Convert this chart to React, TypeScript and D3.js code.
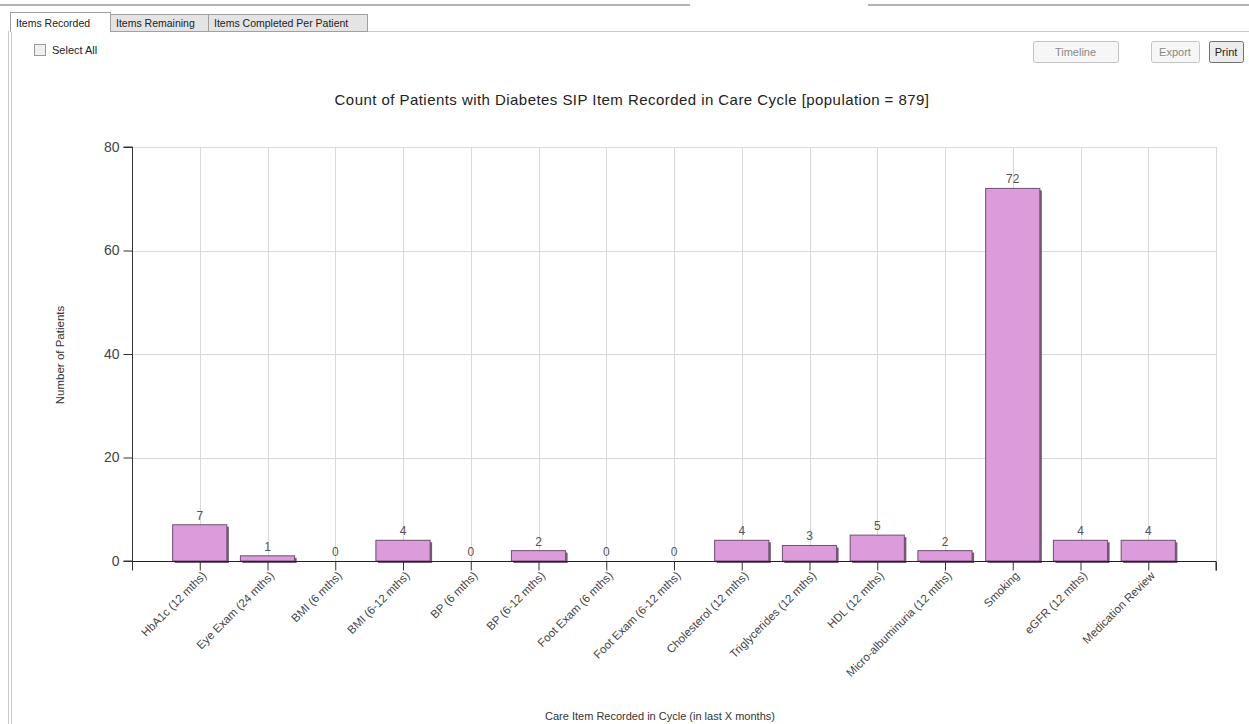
import React, { useEffect, useRef } from 'react';
import * as d3 from 'd3';

const categories = [
  'HbA1c (12 mths)',
  'Eye Exam (24 mths)',
  'BMI (6 mths)',
  'BMI (6-12 mths)',
  'BP (6 mths)',
  'BP (6-12 mths)',
  'Foot Exam (6 mths)',
  'Foot Exam (6-12 mths)',
  'Cholesterol (12 mths)',
  'Triglycerides (12 mths)',
  'HDL (12 mths)',
  'Micro-albuminuria (12 mths)',
  'Smoking',
  'eGFR (12 mths)',
  'Medication Review',
];
const counts = [7, 1, 0, 4, 0, 2, 0, 0, 4, 3, 5, 2, 72, 4, 4];
const yTicks = [0, 20, 40, 60, 80];
const tabs = ['Items Recorded', 'Items Remaining', 'Items Completed Per Patient'];

const W = 1249, H = 724;
const FONT = 'Arial, "Liberation Sans", sans-serif';

export default function App() {
  const ref = useRef<SVGSVGElement>(null);

  useEffect(() => {
    const svg = d3.select(ref.current);
    svg.selectAll('*').remove();

    // window chrome
    const chrome = svg.append('g');
    chrome.append('line').attr('x1', 0).attr('x2', 690).attr('y1', 5).attr('y2', 5)
      .attr('stroke', '#9a9a9a').attr('stroke-width', 1.5);
    chrome.append('line').attr('x1', 868).attr('x2', W).attr('y1', 5).attr('y2', 5)
      .attr('stroke', '#9a9a9a').attr('stroke-width', 1.5);

    // panel border
    chrome.append('path')
      .attr('d', `M367,31.5 H${W} M8.5,31 V${H} M11.5,31 V${H}`)
      .attr('fill', 'none').attr('stroke', '#c8c8c8');

    const tabX = [10, 110, 208, 367];
    tabs.forEach((t, i) => {
      const active = i === 0;
      chrome.append('rect')
        .attr('x', tabX[i] + 0.5).attr('y', active ? 12.5 : 14.5)
        .attr('width', tabX[i + 1] - tabX[i]).attr('height', active ? 19 : 17)
        .attr('fill', active ? '#fff' : '#e4e4e4').attr('stroke', '#a0a0a0');
      chrome.append('text')
        .attr('x', tabX[i] + 6).attr('y', 27)
        .attr('font-family', FONT).attr('font-size', 10.5).attr('fill', '#222')
        .text(t);
    });
    chrome.append('line').attr('x1', 11).attr('x2', 110).attr('y1', 31.5).attr('y2', 31.5)
      .attr('stroke', '#fff').attr('stroke-width', 1.5);

    chrome.append('rect').attr('x', 34.5).attr('y', 44.5).attr('width', 11).attr('height', 11)
      .attr('fill', '#f0f0f0').attr('stroke', '#9a9a9a');
    chrome.append('text').attr('x', 52).attr('y', 54)
      .attr('font-family', FONT).attr('font-size', 11).attr('fill', '#222').text('Select All');

    const buttons = [
      { label: 'Timeline', x: 1033, w: 85, color: '#888' },
      { label: 'Export', x: 1151, w: 48, color: '#888' },
      { label: 'Print', x: 1209, w: 34, color: '#222' },
    ];
    buttons.forEach(b => {
      chrome.append('rect').attr('x', b.x + 0.5).attr('y', 41.5).attr('width', b.w).attr('height', 21)
        .attr('rx', 2).attr('fill', b.label === 'Print' ? '#ececec' : '#f6f6f6')
        .attr('stroke', b.label === 'Print' ? '#707070' : '#c4c4c4');
      chrome.append('text').attr('x', b.x + b.w / 2).attr('y', 56)
        .attr('text-anchor', 'middle').attr('font-family', FONT).attr('font-size', 11)
        .attr('fill', b.color).text(b.label);
    });

    // chart
    const left = 132, right = 1216, top = 147, bottom = 561;
    const x = d3.scaleLinear().domain([0, categories.length + 1]).range([left, right]);
    const y = d3.scaleLinear().domain([0, 80]).range([bottom, top]);
    const step = x(1) - x(0);
    const barW = step * 0.8;

    const g = svg.append('g');

    g.append('text')
      .attr('x', 632).attr('y', 105).attr('text-anchor', 'middle')
      .attr('font-family', FONT).attr('font-size', 15).attr('letter-spacing', 0.45).attr('fill', '#222')
      .text('Count of Patients with Diabetes SIP Item Recorded in Care Cycle [population = 879]');

    // grid
    g.selectAll('.hgrid').data(yTicks.filter(d => d > 0)).enter().append('line')
      .attr('x1', left).attr('x2', right)
      .attr('y1', d => Math.round(y(d)) + 0.5).attr('y2', d => Math.round(y(d)) + 0.5)
      .attr('stroke', '#d9d9d9');
    const xTickVals = d3.range(1, categories.length + 2);
    g.selectAll('.vgrid').data(xTickVals).enter().append('line')
      .attr('x1', d => Math.round(x(d)) + 0.5).attr('x2', d => Math.round(x(d)) + 0.5)
      .attr('y1', top).attr('y2', bottom)
      .attr('stroke', '#d9d9d9');

    // bars with shadow
    const bars = g.selectAll('.bar').data(counts).enter().append('g');
    bars.append('rect')
      .attr('x', (d, i) => x(i + 1) - barW / 2 + 2)
      .attr('y', d => y(d) + 2)
      .attr('width', barW).attr('height', d => Math.max(0, bottom - y(d)))
      .attr('fill', '#5a3f5a').attr('opacity', d => d > 0 ? 0.85 : 0);
    bars.append('rect')
      .attr('x', (d, i) => x(i + 1) - barW / 2)
      .attr('y', d => y(d))
      .attr('width', barW).attr('height', d => bottom - y(d))
      .attr('fill', '#dc9cdc').attr('stroke', '#6e4f6e').attr('stroke-width', 1)
      .attr('opacity', d => d > 0 ? 1 : 0);
    bars.append('text')
      .attr('x', (d, i) => x(i + 1))
      .attr('y', d => y(d) - 5)
      .attr('text-anchor', 'middle')
      .attr('font-family', FONT).attr('font-size', 12).attr('fill', '#555')
      .text(d => d);

    // y axis
    const yAxis = g.append('g').attr('transform', `translate(${left + 0.5},0)`)
      .call(d3.axisLeft(y).tickValues(yTicks).tickSize(9).tickPadding(4));
    yAxis.select('.domain').attr('stroke', '#333').attr('d', `M-9,${top}H0V${bottom}H-9`);
    yAxis.selectAll('.tick line').attr('stroke', '#333');
    yAxis.selectAll('.tick text').attr('font-family', FONT).attr('font-size', 14).attr('fill', '#444');

    // x axis
    const xAxis = g.append('g').attr('transform', `translate(0,${bottom + 0.5})`)
      .call(d3.axisBottom(x).tickValues(d3.range(0, categories.length + 2)).tickSize(9)
        .tickFormat(d => categories[(d as number) - 1] ?? ''));
    xAxis.select('.domain').attr('stroke', '#222').attr('d', `M${left},0H${right}V9`);
    xAxis.selectAll('.tick line').attr('stroke', '#333');
    xAxis.selectAll('.tick text')
      .attr('font-family', FONT).attr('font-size', 11.5).attr('fill', '#444')
      .attr('text-anchor', 'end')
      .attr('transform', 'translate(4,12) rotate(-45)')
      .attr('dy', '0.35em').attr('y', 0);

    g.append('text')
      .attr('transform', `translate(64,355) rotate(-90)`)
      .attr('text-anchor', 'middle')
      .attr('font-family', FONT).attr('font-size', 11.5).attr('fill', '#333')
      .text('Number of Patients');
    g.append('text')
      .attr('x', 660).attr('y', 720).attr('text-anchor', 'middle')
      .attr('font-family', FONT).attr('font-size', 11).attr('fill', '#333')
      .text('Care Item Recorded in Cycle (in last X months)');
  }, []);

  return (
    <svg ref={ref} width={W} height={H}
      style={{ position: 'absolute', left: 0, top: 0, background: '#fff' }} />
  );
}
